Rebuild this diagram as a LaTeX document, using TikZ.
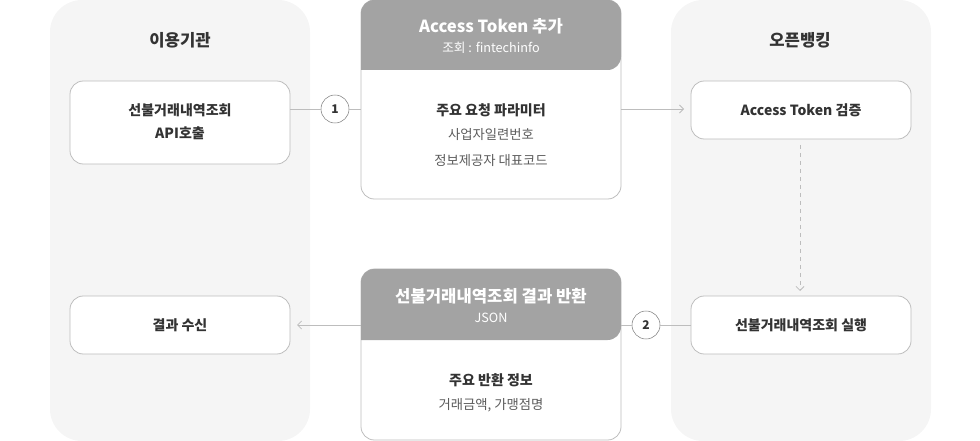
\documentclass[tikz,border=0pt]{standalone}
\usepackage{fontspec}
\setmainfont{Noto Sans CJK KR}
\usetikzlibrary{arrows.meta}
\definecolor{panelgray}{HTML}{F5F5F5}
\definecolor{headgray}{HTML}{A3A3A3}
\definecolor{linegray}{HTML}{BDBDBD}
\definecolor{textgray}{HTML}{333333}
\tikzset{
  panel/.style={fill=panelgray, rounded corners=24pt},
  stepbox/.style={draw=linegray, fill=white, rounded corners=10pt, line width=0.6pt},
  boxtext/.style={font=\fontsize{10.5}{17}\selectfont\bfseries, text=textgray, align=center},
  numcirc/.style={circle, draw=gray, fill=white, minimum size=21pt, inner sep=0pt,
    font=\fontsize{9}{9}\selectfont\bfseries, text=textgray},
  conn/.style={draw=linegray, line width=0.6pt},
  arr/.style={conn, -{Straight Barb[length=3pt,width=6pt]}}
}
\begin{document}
\begin{tikzpicture}[x=0.75pt,y=-0.75pt]
\useasboundingbox (0,0) rectangle (980,441);
% panels
\path[panel] (50,0) rectangle (310,441);
\path[panel] (671,0) rectangle (931,441);
\node[font=\fontsize{12.5}{14}\selectfont\bfseries, text=textgray] (lefttitle) at (180,40) {이용기관};
\node[font=\fontsize{12.5}{14}\selectfont\bfseries, text=textgray] (righttitle) at (800,40) {오픈뱅킹};
% boxes
\draw[stepbox] (70,81) rectangle (290,164);
\node[boxtext] (call) at (180,122) {선불거래내역조회\\API호출};
\draw[stepbox] (70,296) rectangle (290,354);
\node[boxtext] (recv) at (180,325) {결과 수신};
\draw[stepbox] (691,81) rectangle (911,139);
\node[boxtext] (verify) at (801,110) {Access Token 검증};
\draw[stepbox] (691,296) rectangle (911,354);
\node[boxtext] (exec) at (801,325) {선불거래내역조회 실행};
% request card
\draw[stepbox] (361,0) rectangle (621,199);
\path[fill=headgray, rounded corners=10pt] (361,70) -- (361,0) -- (621,0) -- (621,70) [sharp corners] -- cycle;
\node[font=\fontsize{12.5}{14}\selectfont\bfseries, text=white] (reqhead) at (491,26) {Access Token 추가};
\node[font=\fontsize{9.5}{11}\selectfont, text=white] (reqsub) at (491,48) {조회 : fintechinfo};
\node[boxtext] (reqbody) at (491,110) {주요 요청 파라미터};
\node[font=\fontsize{10}{12}\selectfont, text=textgray!80] (reqa) at (491,135) {사업자일련번호};
\node[font=\fontsize{10}{12}\selectfont, text=textgray!80] (reqb) at (491,161) {정보제공자 대표코드};
% response card
\draw[stepbox] (361,269) rectangle (621,440);
\path[fill=headgray, rounded corners=10pt] (361,340) -- (361,269) -- (621,269) -- (621,340) [sharp corners] -- cycle;
\node[font=\fontsize{12.5}{14}\selectfont\bfseries, text=white] (reshead) at (491,296) {선불거래내역조회 결과 반환};
\node[font=\fontsize{9.5}{11}\selectfont, text=white] (ressub) at (491,318) {JSON};
\node[boxtext] (resbody) at (491,380) {주요 반환 정보};
\node[font=\fontsize{10}{12}\selectfont, text=textgray!80] (resa) at (491,405) {거래금액, 가맹점명};
% connectors
\coordinate (reqin) at (361,109);
\coordinate (reqout) at (621,109);
\coordinate (resin) at (621,325);
\coordinate (resout) at (361,325);
\node[numcirc] (one) at (335,109) {1};
\node[numcirc] (two) at (646,325) {2};
\draw[conn] (290,109) -- (one) -- (reqin);
\draw[arr] (reqout) -- (684,109);
\draw[arr, dashed] (800,145) -- (800,291);
\draw[conn] (691,325) -- (two) -- (resin);
\draw[arr] (resout) -- (297,325);
\end{tikzpicture}
\end{document}
